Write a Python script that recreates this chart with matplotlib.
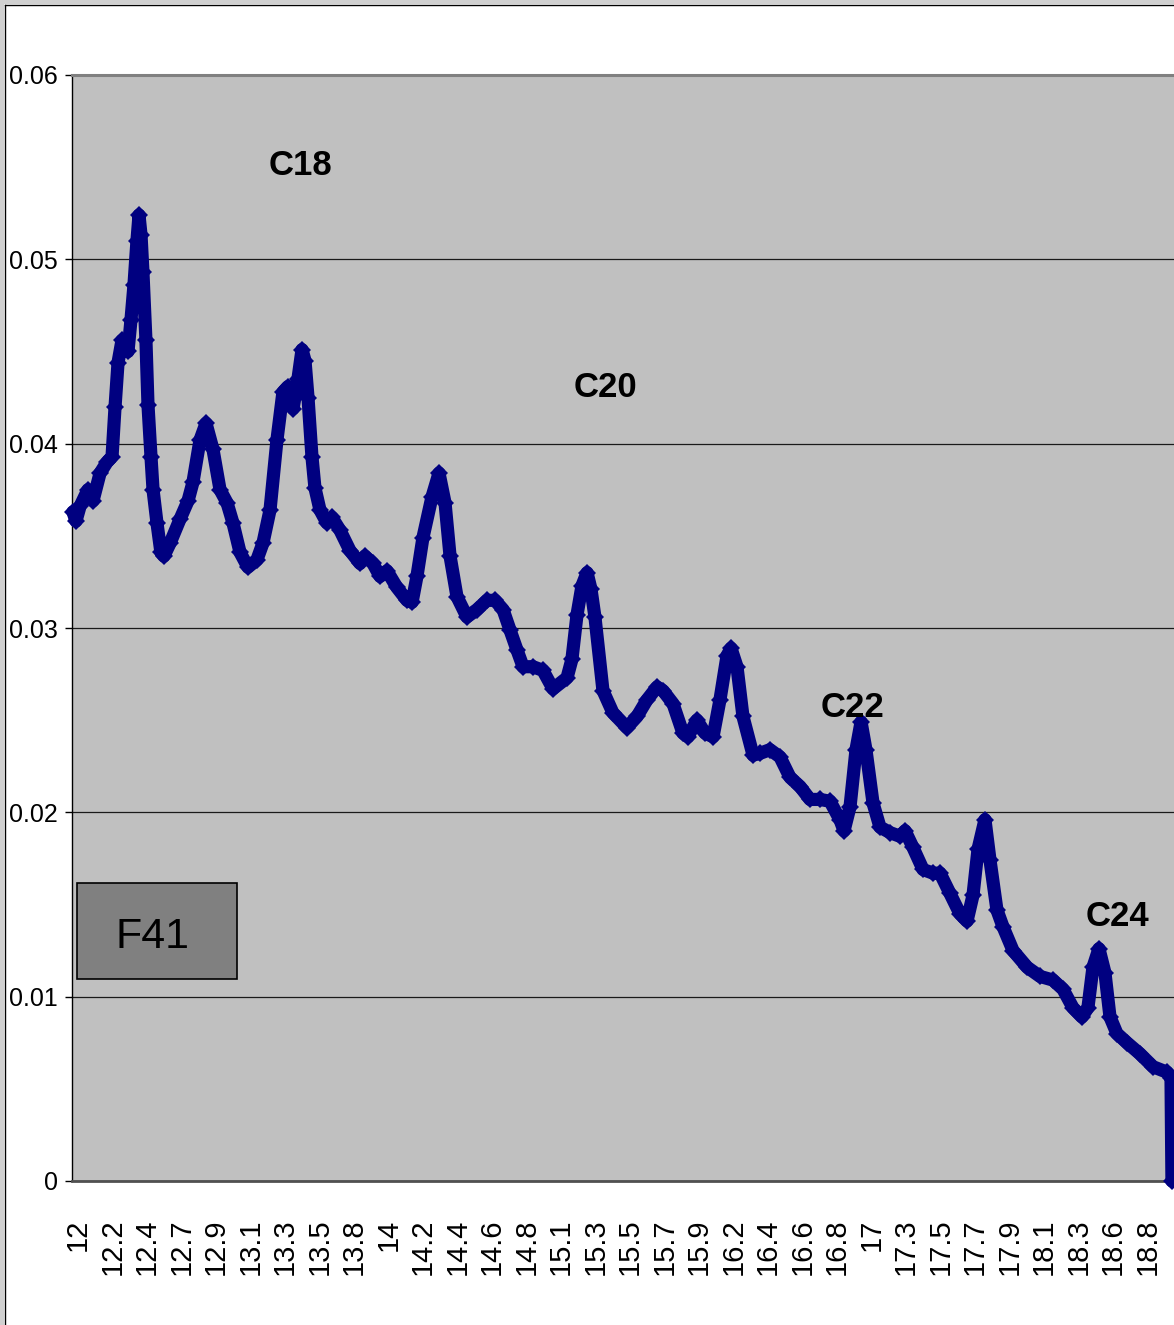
import numpy as np
import matplotlib
matplotlib.use("Agg")
import matplotlib.pyplot as plt
from matplotlib.patches import Rectangle

# Retention time (min) and detector response of the F41 trace
time_min = [
    11.968, 11.987, 12.013, 12.063, 12.095, 12.140, 12.184, 12.216, 12.235, 12.254,
    12.279, 12.317, 12.336, 12.355, 12.374, 12.387, 12.400, 12.412, 12.431, 12.444,
    12.463, 12.476, 12.501, 12.526, 12.545, 12.584, 12.647, 12.698, 12.729, 12.774,
    12.812, 12.856, 12.901, 12.945, 12.983, 13.028, 13.078, 13.135, 13.173, 13.218,
    13.262, 13.300, 13.332, 13.364, 13.395, 13.421, 13.440, 13.459, 13.484, 13.503,
    13.535, 13.579, 13.611, 13.662, 13.725, 13.789, 13.820, 13.871, 13.916, 13.960,
    14.023, 14.087, 14.119, 14.150, 14.188, 14.245, 14.290, 14.328, 14.360, 14.404,
    14.467, 14.531, 14.594, 14.645, 14.696, 14.740, 14.785, 14.823, 14.886, 14.949,
    15.013, 15.102, 15.133, 15.165, 15.197, 15.229, 15.254, 15.279, 15.330, 15.393,
    15.482, 15.546, 15.609, 15.673, 15.711, 15.774, 15.837, 15.869, 15.926, 15.977,
    16.028, 16.072, 16.117, 16.142, 16.180, 16.218, 16.282, 16.326, 16.389, 16.453,
    16.516, 16.580, 16.643, 16.707, 16.770, 16.833, 16.859, 16.897, 16.935, 16.967,
    16.998, 17.043, 17.087, 17.151, 17.214, 17.246, 17.296, 17.360, 17.423, 17.468,
    17.531, 17.594, 17.639, 17.677, 17.709, 17.753, 17.785, 17.829, 17.867, 17.931,
    18.020, 18.102, 18.184, 18.248, 18.311, 18.368, 18.406, 18.438, 18.476, 18.514,
    18.546, 18.590, 18.654, 18.736, 18.819, 18.908, 18.933, 18.939,
]
response = [
    0.0363, 0.0358, 0.0366, 0.0375, 0.0369, 0.0384, 0.0390, 0.0393, 0.0420, 0.0444,
    0.0456, 0.0450, 0.0467, 0.0486, 0.0510, 0.0524, 0.0513, 0.0493, 0.0456, 0.0421,
    0.0393, 0.0375, 0.0357, 0.0341, 0.0339, 0.0346, 0.0359, 0.0369, 0.0379, 0.0402,
    0.0411, 0.0397, 0.0375, 0.0368, 0.0357, 0.0341, 0.0333, 0.0337, 0.0346, 0.0364,
    0.0402, 0.0428, 0.0431, 0.0419, 0.0435, 0.0451, 0.0445, 0.0425, 0.0393, 0.0376,
    0.0364, 0.0357, 0.0360, 0.0353, 0.0342, 0.0335, 0.0339, 0.0335, 0.0328, 0.0331,
    0.0322, 0.0315, 0.0314, 0.0328, 0.0349, 0.0371, 0.0384, 0.0368, 0.0339, 0.0317,
    0.0306, 0.0310, 0.0315, 0.0315, 0.0310, 0.0299, 0.0288, 0.0279, 0.0279, 0.0277,
    0.0267, 0.0273, 0.0283, 0.0307, 0.0323, 0.0330, 0.0321, 0.0306, 0.0266, 0.0254,
    0.0246, 0.0252, 0.0261, 0.0268, 0.0266, 0.0259, 0.0243, 0.0241, 0.0250, 0.0243,
    0.0241, 0.0261, 0.0285, 0.0289, 0.0279, 0.0252, 0.0231, 0.0232, 0.0234, 0.0230,
    0.0219, 0.0214, 0.0207, 0.0207, 0.0206, 0.0196, 0.0190, 0.0203, 0.0234, 0.0249,
    0.0234, 0.0205, 0.0192, 0.0189, 0.0187, 0.0190, 0.0181, 0.0169, 0.0167, 0.0167,
    0.0156, 0.0145, 0.0141, 0.0155, 0.0180, 0.0196, 0.0174, 0.0147, 0.0138, 0.0125,
    0.0116, 0.0111, 0.0109, 0.0104, 0.0094, 0.0089, 0.0094, 0.0116, 0.0126, 0.0113,
    0.0089, 0.0080, 0.0075, 0.0069, 0.0062, 0.0059, 0.0056, 0.0000,
]

# Category labels on the time axis
x_labels = ['12', '12.2', '12.4', '12.7', '12.9', '13.1', '13.3', '13.5', '13.8',
            '14', '14.2', '14.4', '14.6', '14.8', '15.1', '15.3', '15.5', '15.7',
            '15.9', '16.2', '16.4', '16.6', '16.8', '17', '17.3', '17.5', '17.7',
            '17.9', '18.1', '18.3', '18.6', '18.8']
label_start = 12.0
label_step = 0.21885

y_ticks = [0, 0.01, 0.02, 0.03, 0.04, 0.05, 0.06]
y_tick_labels = ['0', '0.01', '0.02', '0.03', '0.04', '0.05', '0.06']

peak_names = ['C18', 'C20', 'C22', 'C24']
sample_name = 'F41'

W, H = 1174, 1325
fig = plt.figure(figsize=(W / 100, H / 100), dpi=100, facecolor='white')

# Outer frame of the chart object
fig.patches.append(Rectangle((0, 0), 4 / W, 1, transform=fig.transFigure,
                             facecolor='#d0d0d0', edgecolor='none', zorder=0))
fig.patches.append(Rectangle((0, 1 - 4 / H), 1, 4 / H, transform=fig.transFigure,
                             facecolor='#d0d0d0', edgecolor='none', zorder=0))
fig.lines.append(plt.Line2D([4.5 / W, 4.5 / W], [0, 1 - 4.5 / H], transform=fig.transFigure,
                            color='black', lw=1.0))
fig.lines.append(plt.Line2D([4.5 / W, 1], [1 - 4.5 / H, 1 - 4.5 / H], transform=fig.transFigure,
                            color='black', lw=1.0))

ax = fig.add_axes([72 / W, 1 - 1181 / H, 1 - 72 / W, (1181 - 75) / H])
ax.set_facecolor('#c0c0c0')

ax.plot(time_min, response, color='#000080', lw=9.5, marker='D', ms=9,
        markeredgewidth=0, solid_joinstyle='round', solid_capstyle='round',
        zorder=3, clip_on=False)

ax.set_ylim(0, 0.06)
ax.set_xlim(11.962, 18.952)

ax.set_yticks(y_ticks)
ax.set_yticklabels(y_tick_labels, family='Liberation Sans', fontsize=18)
ax.tick_params(axis='y', direction='out', length=5, width=1, pad=5, colors='black')

x_ticks = [label_start + label_step * i for i in range(len(x_labels))]
ax.set_xticks(x_ticks)
ax.set_xticklabels(x_labels, rotation=90, family='Liberation Sans', fontsize=21,
                   va='top', ha='center')
ax.tick_params(axis='x', length=0, pad=27)

ax.grid(axis='y', color='#1a1a1a', lw=0.9, zorder=1)
ax.set_axisbelow(True)

ax.spines['right'].set_visible(False)
ax.spines['top'].set_color('#808080')
ax.spines['top'].set_linewidth(2.2)
ax.spines['bottom'].set_color('#505050')
ax.spines['bottom'].set_linewidth(2.0)
ax.spines['left'].set_color('black')
ax.spines['left'].set_linewidth(1.0)

label_font = dict(family='Liberation Sans', fontsize=25, fontweight='bold',
                  ha='center', va='center', transform=ax.transAxes, zorder=5)
ax.text(0.2078, 0.9186, peak_names[0], **label_font)
ax.text(0.4837, 0.7170, peak_names[1], **label_font)
ax.text(0.7087, 0.4277, peak_names[2], **label_font)
ax.text(0.9483, 0.2396, peak_names[3], **label_font)

ax.add_patch(Rectangle((0.0045, 0.1826), 0.1452, 0.0868, transform=ax.transAxes,
                       facecolor='#808080', edgecolor='black', lw=1.2, zorder=4))
ax.text(0.0726, 0.2206, sample_name, family='Liberation Sans', fontsize=31,
        ha='center', va='center', transform=ax.transAxes, zorder=5)

fig.savefig('out.png', dpi=100, facecolor='white')
